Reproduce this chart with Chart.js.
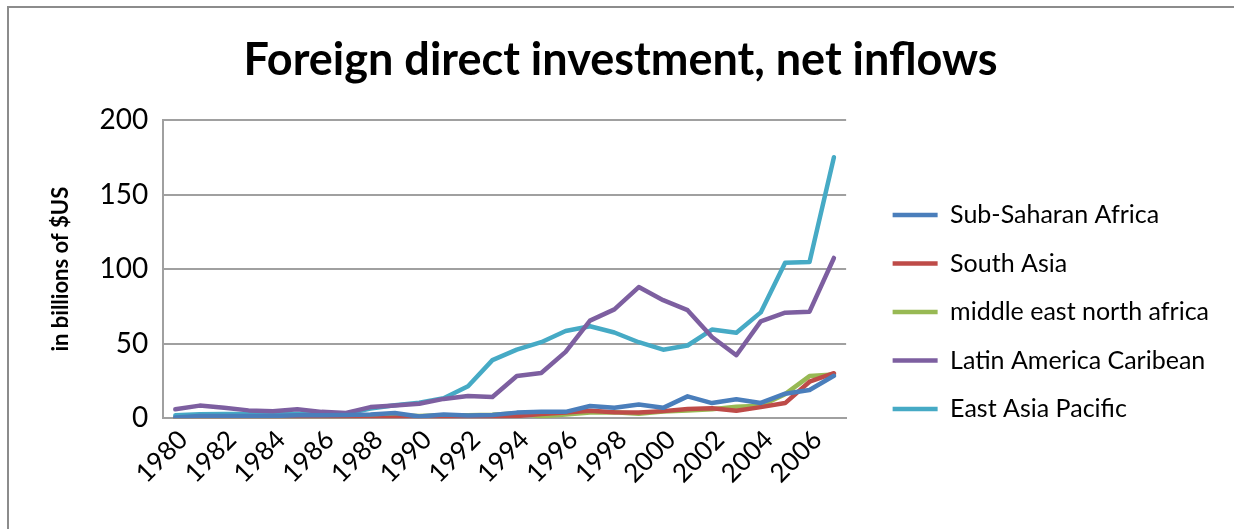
<!DOCTYPE html>
<html>
<head>
<meta charset="utf-8">
<script src="https://cdn.jsdelivr.net/npm/chart.js@4"></script>
<style>
  html, body { margin: 0; padding: 0; background: #fff; overflow: hidden; }
  #wrap { position: absolute; left: 0; top: 0; width: 1234px; height: 529px; }
  #frame { position: absolute; left: 7px; top: 6px; width: 1300px; height: 600px; border: 2px solid #8c8c8c; box-sizing: border-box; pointer-events: none; }
  canvas { position: absolute; left: 0; top: 0; }
</style>
</head>
<body>
<div id="wrap">
  <canvas id="c" width="1234" height="529"></canvas>
  <div id="frame"></div>
</div>
<script>
const years = [1980,1981,1982,1983,1984,1985,1986,1987,1988,1989,1990,1991,1992,1993,1994,1995,1996,1997,1998,1999,2000,2001,2002,2003,2004,2005,2006,2007];
const subSaharanAfrica = [0.5,1.5,1.5,1.5,1.5,2,2,2.2,2.5,3.5,1.2,2.5,1.8,2.2,3.8,4.3,4.3,8.2,7,9.3,7,14.7,10.2,12.8,10.3,16.5,19,28.5];
const southAsia = [0,0,0.2,0.2,0.2,0.2,0.3,0.3,-0.3,0.4,0.5,0.5,0.7,0.9,1.5,2.8,3.8,5,4,3.8,4.8,6.2,6.8,5,7.5,10.2,24.5,30.2];
const middleEastNorthAfrica = [0,0.3,0.5,0.5,0.7,0.8,1,1.2,1.5,2,1.5,2,2,2.4,3.3,1.3,2.6,3.8,4,3,4.6,5.3,6,7.8,8.4,16.2,28.3,29.4];
const latinAmericaCaribbean = [6,8.5,7,5.3,4.7,6,4.3,3.6,7.5,8.5,9.8,13,15,14.3,28.4,30.4,44.5,65.5,73,88,79.2,72.5,54.5,42.3,65,70.8,71.5,107.5];
const eastAsiaPacific = [2,2.7,2.8,2.9,2.9,3,3,3,6.5,8.7,10.5,13.5,21.5,39,46,51,58.5,61.7,57.5,51,46,48.8,59.5,57.3,71,104.3,104.8,175];
const seriesNames = ["Sub-Saharan Africa","South Asia","middle east north africa","Latin America Caribean","East Asia Pacific"];
const yTicks = [0,50,100,150,200];

const colors = ["#4a7ebb","#be4b48","#98b954","#7d5fa0","#46aac5"];
const values = [subSaharanAfrica, southAsia, middleEastNorthAfrica, latinAmericaCaribbean, eastAsiaPacific];

const FONT = "Lato, 'Open Sans', sans-serif";

new Chart(document.getElementById('c'), {
  type: 'line',
  data: {
    labels: years.map(String),
    datasets: seriesNames.map((name, i) => ({
      label: name,
      data: values[i],
      borderColor: colors[i],
      backgroundColor: colors[i],
      borderWidth: 4.5,
      pointRadius: 0,
      pointHoverRadius: 0,
      tension: 0,
      borderCapStyle: 'round',
      borderJoinStyle: 'round',
      pointStyle: 'line'
    }))
  },
  options: {
    responsive: false,
    animation: false,
    layout: { padding: { left: 22, right: 15, top: 0, bottom: 34 } },
    plugins: {
      title: {
        display: true,
        text: 'Foreign direct investment, net inflows',
        color: '#000',
        font: { family: FONT, size: 45, weight: 'bold' },
        padding: { top: 33, bottom: 33 }
      },
      legend: {
        position: 'right',
        align: 'start',
        maxWidth: 420,
        title: {
          display: true,
          text: '',
          font: { family: FONT, size: 10 },
          padding: { top: 167, bottom: 0 }
        },
        labels: {
          usePointStyle: true,
          pointStyle: 'line',
          pointStyleWidth: 45,
          color: '#000',
          font: { family: FONT, size: 25 },
          padding: 23.5
        }
      },
      tooltip: { enabled: false }
    },
    scales: {
      x: {
        offset: true,
        grid: { display: false, drawTicks: false },
        border: { display: true, color: '#a0a0a0', width: 2 },
        ticks: {
          autoSkip: false,
          maxRotation: 45,
          minRotation: 45,
          color: '#000',
          font: { family: FONT, size: 26 },
          padding: 6,
          labelOffset: 8,
          callback: function(v, i) { return years[i] % 2 === 0 ? String(years[i]) : ''; }
        }
      },
      y: {
        min: yTicks[0],
        max: yTicks[yTicks.length - 1],
        afterBuildTicks: (axis) => { axis.ticks = yTicks.map(v => ({ value: v })); },
        grid: { color: '#a0a0a0', lineWidth: 2, drawTicks: false },
        border: { display: true, color: '#a0a0a0', width: 2 },
        ticks: {
          color: '#000',
          font: { family: FONT, size: 28 },
          padding: 15
        },
        title: {
          display: true,
          text: 'in billions of $US',
          color: '#000',
          font: { family: FONT, size: 22, weight: 'bold' },
          padding: { top: 26, bottom: 10 }
        }
      },
      spacer: {
        type: 'linear',
        position: 'right',
        display: true,
        grid: { display: false, drawTicks: false },
        border: { display: false },
        ticks: { display: false },
        afterFit: (axis) => { axis.width = 23; }
      }
    }
  }
});
</script>
</body>
</html>
